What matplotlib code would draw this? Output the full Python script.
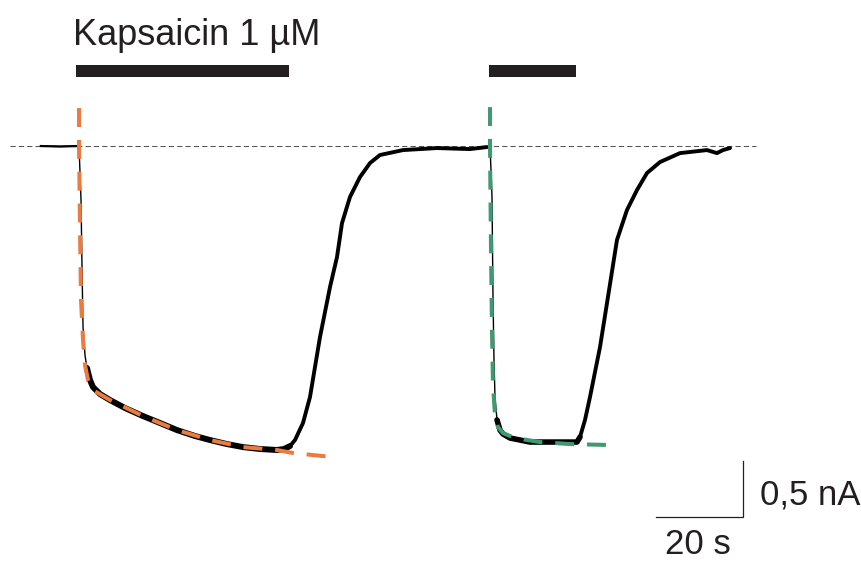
import numpy as np
import matplotlib
matplotlib.use("Agg")
import matplotlib.pyplot as plt

plt.rcParams["font.family"] = ["Liberation Sans", "DejaVu Sans"]

# whole-cell current trace, time in s, current in nA
trace_t = [0.2, 4.6, 8.74, 8.97, 9.43, 9.66, 9.89, 10.34, 10.80, 11.49, 12.18,
           13.79, 16.09, 19.54, 23.68, 27.59, 31.49, 35.63, 39.08, 42.99, 46.67,
           50.57, 54.48, 56.09, 57.47, 58.62, 60.46, 62.07, 64.37, 66.67, 68.28,
           69.43, 71.26, 73.56, 75.86, 78.16, 83.45, 91.26, 98.85, 102.76, 103.45,
           103.68, 103.91, 104.14, 104.37, 104.60, 105.06, 105.75, 106.44, 108.05,
           112.64, 118.39, 123.45, 124.14, 125.29, 126.44, 128.74, 130.57, 132.64,
           134.94, 137.24, 139.54, 142.53, 147.13, 153.33, 155.63, 157.01, 158.62]
trace_i = [0.0, -0.004, 0.0, 0.0, -0.482, -1.080, -1.616, -1.866, -1.982, -2.089, -2.152,
           -2.214, -2.268, -2.339, -2.411, -2.473, -2.536, -2.589, -2.625, -2.661, -2.688,
           -2.705, -2.714, -2.705, -2.679, -2.625, -2.473, -2.241, -1.705, -1.259, -0.991,
           -0.688, -0.455, -0.277, -0.152, -0.080, -0.036, -0.018, -0.027, -0.009, 0.0,
           -0.214, -0.455, -1.348, -1.911, -2.241, -2.446, -2.536, -2.571, -2.607,
           -2.643, -2.643, -2.643, -2.598, -2.446, -2.241, -1.795, -1.348, -0.839,
           -0.571, -0.393, -0.241, -0.143, -0.063, -0.036, -0.063, -0.036, -0.018]

# exponential fits of the activation
fit1_t = [8.97, 8.97, 9.2, 9.43, 9.89, 10.34, 11.03, 12.18, 16.09, 23.68, 31.49,
          39.08, 46.67, 54.48, 58.16, 67.36]
fit1_i = [0.339, 0.0, -0.75, -1.375, -1.732, -1.955, -2.089, -2.179, -2.268, -2.411,
          -2.536, -2.625, -2.688, -2.714, -2.741, -2.777]
fit2_t = [103.45, 103.45, 103.68, 103.91, 104.14, 104.6, 105.29, 106.44, 109.2,
          114.94, 121.84, 131.49]
fit2_i = [0.348, 0.0, -0.929, -1.643, -2.134, -2.402, -2.509, -2.563, -2.607,
          -2.643, -2.661, -2.670]

# capsaicin applications (s)
app_start = [8.3, 103.2]
app_end = [57.2, 123.2]

trace_t = np.array(trace_t)
trace_i = np.array(trace_i)

fig = plt.figure(figsize=(8.62, 5.62), dpi=100)
ax = fig.add_axes([0, 0, 1, 1])
ax.set_xlim(-9.195, 188.97)
ax.set_ylim(-3.714, 1.304)
ax.axis("off")

# baseline
ax.plot([-7.0, 164.6], [0, 0], color="#555555", lw=0.75,
        linestyle=(0, (5, 3)), zorder=1)

# trace: thin line, thicker where the recording is noisy
ax.plot(trace_t, trace_i, color="black", lw=1.0, zorder=2)
m = trace_t <= 8.9
ax.plot(trace_t[m], trace_i[m], color="black", lw=1.6, zorder=2)
for lo, hi, w in [(57.0, 103.0, 2.8), (123.4, 160.0, 2.8),
                  (10.5, 57.6, 4.3), (104.9, 124.2, 4.0)]:
    m = (trace_t >= lo) & (trace_t <= hi)
    ax.plot(trace_t[m], trace_i[m], color="black", lw=w,
            solid_capstyle="round", solid_joinstyle="round", zorder=2)

ax.plot(fit1_t, fit1_i, color="#eb7b3f", lw=2.9, linestyle=(0, (4.7, 3.2)), zorder=3)
ax.plot(fit2_t, fit2_i, color="#3f9a72", lw=2.9, linestyle=(0, (4.7, 3.2)), zorder=3)

# application bars
for s, e in zip(app_start, app_end):
    ax.barh(0.67, e - s, left=s, height=0.107, color="#231f20", zorder=2)
ax.text(7.59, 0.902, "Kapsaicin 1 µM", fontsize=26, color="#231f20",
        ha="left", va="baseline")

# scale bars
ax.plot([141.6, 161.6, 161.6], [-3.3125, -3.3125, -2.8125], color="#231f20",
        lw=0.9, solid_joinstyle="miter")
ax.text(165.5, -3.116, "0,5 nA", fontsize=25, color="#231f20", ha="left", va="center")
ax.text(143.7, -3.64, "20 s", fontsize=25, color="#231f20", ha="left", va="baseline")

fig.savefig("out.png", dpi=100)
